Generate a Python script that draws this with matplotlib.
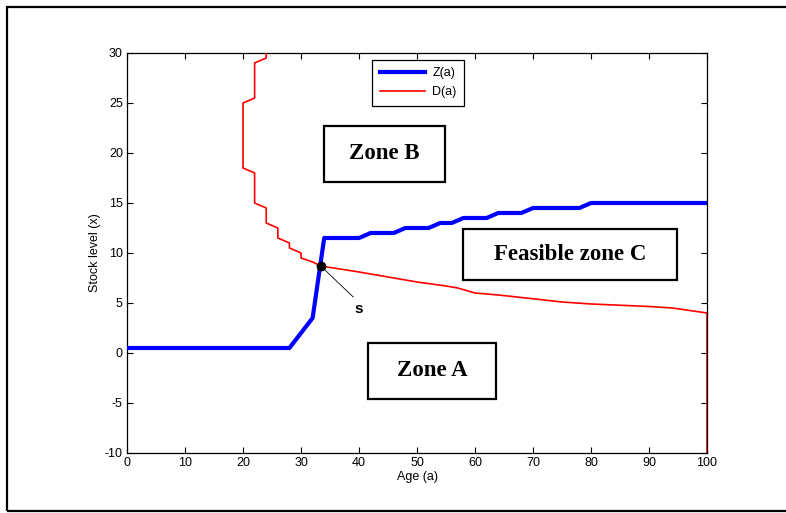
import matplotlib

matplotlib.use("Agg")
import matplotlib.pyplot as plt
from matplotlib.patches import Rectangle

plt.rcParams["axes.unicode_minus"] = False

# Z(a): lower stock threshold vs age
Z_AGE = [0, 28, 32, 34, 40, 42, 46, 48, 52, 54, 56, 58, 62, 64, 68, 70, 78, 80, 100]
Z_VAL = [0.5, 0.5, 3.5, 11.5, 11.5, 12, 12, 12.5, 12.5, 13, 13, 13.5, 13.5, 14, 14, 14.5, 14.5, 15, 15]

# D(a): upper curve vs age
D_AGE = [24, 24, 22, 22, 20, 20, 22, 22, 24, 24, 26, 26, 28, 28, 30, 30, 32, 33.4,
         40, 45, 50, 55, 57, 60, 64, 68, 75, 80, 90, 94, 100, 100]
D_VAL = [30, 29.5, 29, 25.5, 25, 18.5, 18, 15, 14.5, 13, 12.5, 11.5, 11, 10.5, 10, 9.5, 9.1, 8.7,
         8.1, 7.6, 7.1, 6.7, 6.5, 6.0, 5.8, 5.55, 5.1, 4.9, 4.65, 4.5, 4.0, -10]

S_POINT = (33.4, 8.7)

X_TICKS = list(range(0, 101, 10))
Y_TICKS = list(range(-10, 31, 5))

# zone boxes: (label, x0, y0, x1, y1)
ZONES = [
    ("Zone B", 34.0, 17.1, 54.8, 22.7),
    ("Feasible zone C", 57.9, 7.3, 94.8, 12.4),
    ("Zone A", 41.6, -4.6, 63.7, 1.0),
]

fig = plt.figure(figsize=(7.86, 5.13), dpi=100, facecolor="white")
ax = fig.add_axes([0.1616, 0.117, 0.7379, 0.7797])

ax.plot(Z_AGE, Z_VAL, color="#0000FF", linewidth=3, label="Z(a)", zorder=3)
ax.plot(D_AGE, D_VAL, color="#FF0000", linewidth=1.2, label="D(a)", zorder=3)
ax.plot(*S_POINT, "o", color="black", markersize=6, zorder=5)
ax.plot([S_POINT[0], 39.0], [S_POINT[1], 5.6], color="black", linewidth=0.6, zorder=4)
ax.text(40.0, 4.4, "s", fontsize=11, fontweight="bold", family="Liberation Sans",
        ha="center", va="center")

for label, x0, y0, x1, y1 in ZONES:
    ax.add_patch(Rectangle((x0, y0), x1 - x0, y1 - y0, fill=False,
                           edgecolor="black", linewidth=1.6, zorder=4))
    ax.text((x0 + x1) / 2, (y0 + y1) / 2, label, fontsize=16.5, fontweight="bold",
            family="Liberation Serif", ha="center", va="center", zorder=5)

ax.set_xlim(0, 100)
ax.set_ylim(-10, 30)
ax.set_xticks(X_TICKS)
ax.set_yticks(Y_TICKS)
ax.tick_params(direction="in", length=4, width=0.8, top=True, right=True,
               labelsize=9, pad=3)
for lbl in ax.get_xticklabels() + ax.get_yticklabels():
    lbl.set_family("Liberation Sans")
for spine in ax.spines.values():
    spine.set_linewidth(0.9)

ax.set_xlabel("Age (a)", fontsize=9, family="Liberation Sans", labelpad=1.5)
ax.set_ylabel("Stock level (x)", fontsize=9, family="Liberation Sans", labelpad=3)

leg = ax.legend(loc="upper center", bbox_to_anchor=(0.502, 0.983),
                prop={"family": "Liberation Sans", "size": 9},
                fancybox=False, framealpha=1, edgecolor="black",
                handlelength=3.6, borderpad=0.6, labelspacing=0.55, handletextpad=0.6,
                borderaxespad=0)
leg.get_frame().set_linewidth(0.9)

# outer frame around the whole picture
fig.patches.append(Rectangle((7 / 786, 2 / 513), 1.2, 504 / 513, fill=False,
                             edgecolor="black", linewidth=1.6,
                             transform=fig.transFigure, figure=fig))

fig.savefig("out.png", dpi=100, facecolor="white")
